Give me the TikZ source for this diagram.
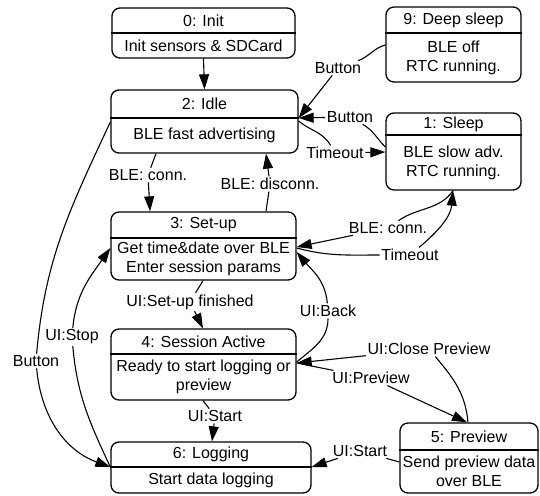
\documentclass[tikz,border=0pt]{standalone}
\usepackage{fontspec}
\setmainfont{Liberation Sans}
\usetikzlibrary{arrows.meta}

\tikzset{
    statebox/.style={draw, line width=1.3pt, rounded corners=8pt, inner sep=0pt},
    txt/.style={align=center, inner sep=0pt, font=\fontsize{16}{19}\selectfont},
    lbl/.style={inner sep=1.5pt, font=\fontsize{16}{19}\selectfont},
    arr/.style={line width=1.1pt, -{Triangle[length=15pt,width=10pt]}},
}

% name, left, top, right, bottom, divider, title, body
\newcommand{\fsmstate}[8]{%
    \node[statebox, minimum width={(#4-#2)*1pt}, minimum height={(#5-#3)*1pt}] (#1) at ({(#2+#4)/2},{(#3+#5)/2}) {};
    \path[draw, line width=1.3pt] (#1.west |- 0,#6) -- (#1.east |- 0,#6);
    \node[txt] (#1-title) at ({(#2+#4)/2},{(#3+#6)/2}) {#7};
    \node[txt] (#1-body) at ({(#2+#4)/2},{(#6+#5)/2}) {#8};
}

\begin{document}
\begin{tikzpicture}[x=1pt, y=-1pt]

    \useasboundingbox (0,0) rectangle (540,495);

    % states
    \fsmstate{init}{112}{8}{295}{58}{33}{0: Init}{Init sensors \& SDCard}
    \fsmstate{idle}{111}{90}{298}{153}{118}{2: Idle}{BLE fast advertising}
    \fsmstate{deep}{386}{7}{521}{82}{33}{9: Deep sleep}{BLE off\\RTC running.}
    \fsmstate{sleep}{386}{113}{521}{190}{135}{1: Sleep}{BLE slow adv.\\RTC running.}
    \fsmstate{setup}{111}{212}{296}{280}{238}{3: Set-up}{Get time\&date over BLE\\Enter session params}
    \fsmstate{session}{111}{329}{296}{400}{354}{4: Session Active}{Ready to start logging or\\preview}
    \fsmstate{logging}{111}{442}{311}{493}{467}{6: Logging}{Start data logging}
    \fsmstate{preview}{400}{423}{538}{493}{450}{5: Preview}{Send preview data\\over BLE}

    % transition labels
    \node[lbl] (lDeepBtn) at (338,68) {Button};
    \node[lbl] (lSleepBtn) at (350,117) {Button};
    \node[lbl] (lIdleTo) at (335,153) {Timeout};
    \node[lbl] (lIdleConn) at (148,175) {BLE: conn.};
    \node[lbl] (lDisc) at (270,184) {BLE: disconn.};
    \node[lbl] (lSleepConn) at (388,228) {BLE: conn.};
    \node[lbl] (lSetTo) at (410,255) {Timeout};
    \node[lbl] (lSetFin) at (190,302) {UI:Set-up finished};
    \node[lbl] (lBack) at (328,311) {UI:Back};
    \node[lbl] (lClose) at (429,349) {UI:Close Preview};
    \node[lbl] (lPrev) at (371,378) {UI:Preview};
    \node[lbl] (lStart) at (215,416) {UI:Start};
    \node[lbl] (lPStart) at (360,451) {UI:Start};
    \node[lbl] (lStop) at (72,337) {UI:Stop};
    \node[lbl] (lBtn) at (36,361) {Button};

    % transitions
    \draw[arr] (init.south) -- (idle.north);
    \draw[arr] (deep.west |- 0,45) to[out=195,in=20] (lDeepBtn) -- (idle.east |- 0,118);
    \draw[arr] (sleep.west |- 0,147) to[out=135,in=-30] (lSleepBtn) -- (idle.east |- 0,118);
    \draw[arr] (idle.east |- 0,121) to[out=-40,in=120] (lIdleTo) -- (sleep.west |- 0,152);
    \draw[arr] (idle.south -| 156,0) -- (lIdleConn) -- (setup.north -| 150,0);
    \draw[arr] (setup.north -| 266,0) -- (lDisc) -- (idle.south -| 266,0);
    \draw[arr] (sleep.south -| 453,0) to[out=-125,in=35] (lSleepConn) -- (setup.east |- 0,247);
    \draw[arr] (setup.east |- 0,248) to[out=-15,in=180] (lSetTo) to[out=40,in=-95] (sleep.south -| 453,0);
    \draw[arr] (setup.south -| 203,0) -- (lSetFin) -- (session.north -| 203,0);
    \draw[arr] (session.east |- 0,362) to[out=40,in=-90] (lBack) to[out=95,in=-50] (setup.east |- 0,252);
    \draw[arr] (session.east |- 0,363) -- (lPrev) -- (preview.north -| 467,0);
    \draw[arr] (preview.north -| 468,0) to[out=95,in=-50] (lClose) -- (session.east |- 0,363);
    \draw[arr] (session.south -| 203,0) -- (lStart) -- (logging.north -| 212,0);
    \draw[arr] (preview.west |- 0,462) -- (lPStart) -- (logging.east |- 0,467);
    \draw[arr] (logging.west |- 0,467) to[out=115,in=-85] (lStop) to[out=85,in=-125] (setup.west |- 0,248);
    \draw[arr] (idle.west |- 0,122) to[out=-115,in=85] (lBtn) to[out=-85,in=160] (logging.west |- 0,467);

\end{tikzpicture}
\end{document}
